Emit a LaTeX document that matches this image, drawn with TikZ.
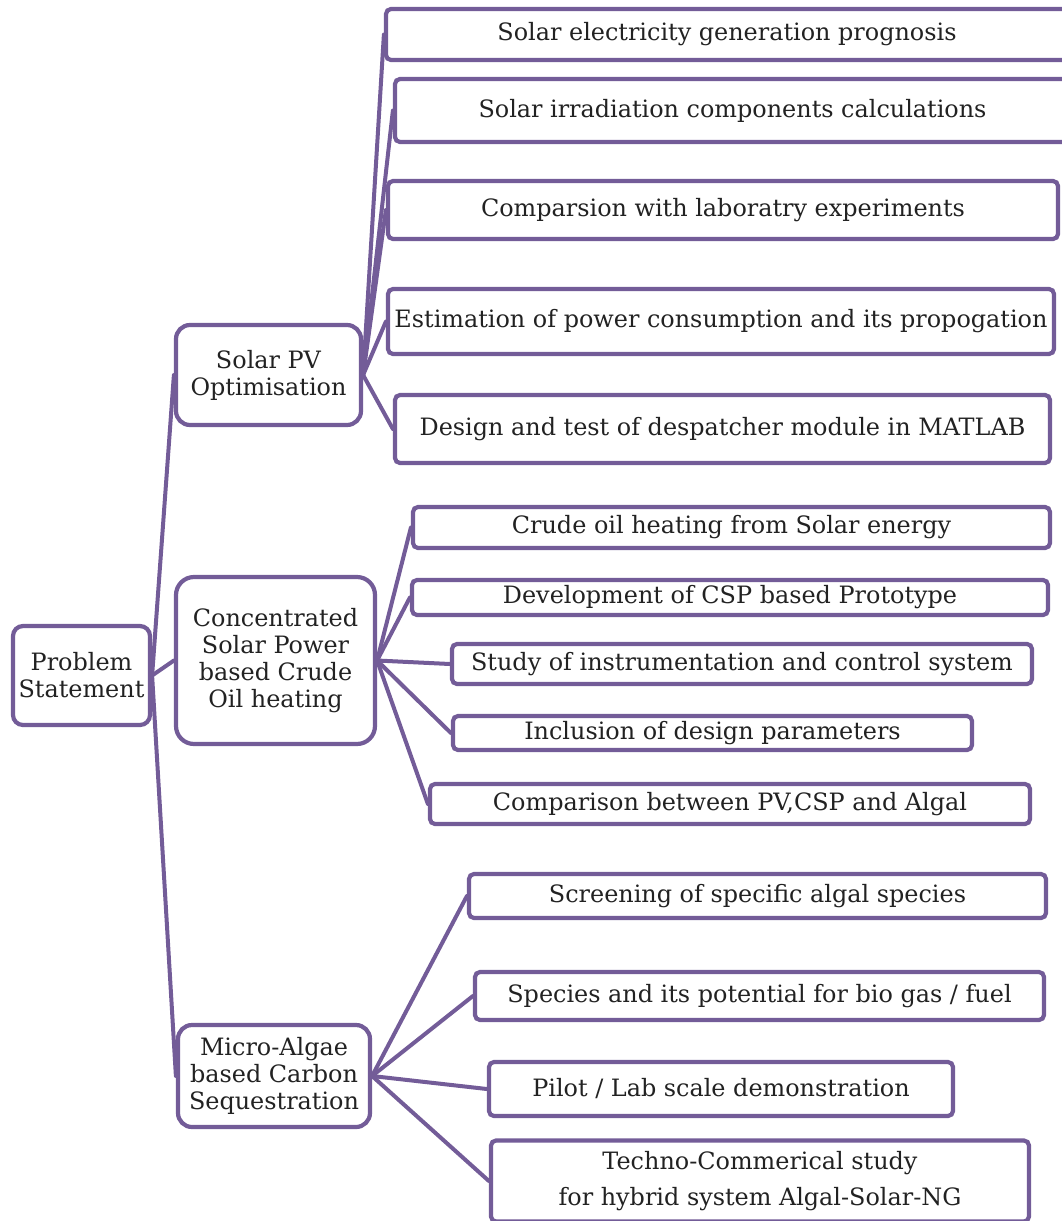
\documentclass[tikz,border=0pt]{standalone}
\usepackage{fontspec}
\setmainfont{DejaVu Serif}
\definecolor{pur}{RGB}{115,92,152}
\definecolor{txt}{RGB}{34,34,34}
\tikzset{
  box/.style={draw=pur, line width=4.2pt, fill=white, align=center, inner sep=0pt,
    font=\fontsize{23.9}{27}\selectfont, text=txt},
  leaf/.style={box, rounded corners=5pt},
  branch/.style={box, rounded corners=14pt},
  conn/.style={draw=pur, line width=4pt, line cap=round},
}
\begin{document}
\begin{tikzpicture}[x=1pt,y=-1pt]
\useasboundingbox (0,0) rectangle (1062,1221);
% root and branches
\node[box, rounded corners=10pt, minimum width=137pt, minimum height=99pt] (ps) at (81.5,675.5) {Problem\\Statement};
\node[branch, minimum width=185pt, minimum height=100pt] (pv) at (268.5,375) {Solar PV\\Optimisation};
\node[branch, rounded corners=18pt, minimum width=199pt, minimum height=167pt] (csp) at (275.5,660.5) {Concentrated\\Solar Power\\based Crude\\Oil heating};
\node[branch, minimum width=192pt, minimum height=102pt] (alg) at (274,1076) {Micro-Algae\\based Carbon\\Sequestration};
% PV leaves
\node[leaf, minimum width=682pt, minimum height=51pt] (p1) at (727,34.5) {Solar electricity generation prognosis};
\node[leaf, minimum width=675pt, minimum height=63pt] (p2) at (732.5,110.5) {Solar irradiation components calculations};
\node[leaf, minimum width=670pt, minimum height=58pt] (p3) at (723,210) {Comparsion with laboratry experiments};
\node[leaf, minimum width=666pt, minimum height=65pt] (p4) at (721,321.5) {Estimation of power consumption and its propogation};
\node[leaf, minimum width=655pt, minimum height=68pt] (p5) at (722.5,429) {Design and test of despatcher module in MATLAB};
% CSP leaves
\node[leaf, minimum width=637pt, minimum height=41pt] (c1) at (731.5,527.5) {Crude oil heating from Solar energy};
\node[leaf, minimum width=636pt, minimum height=35pt] (c2) at (730,597.5) {Development of CSP based Prototype};
\node[leaf, minimum width=580pt, minimum height=40pt] (c3) at (742,664) {Study of instrumentation and control system};
\node[leaf, minimum width=519pt, minimum height=34pt] (c4) at (712.5,733) {Inclusion of design parameters};
\node[leaf, minimum width=600pt, minimum height=40pt] (c5) at (730,804) {Comparison between PV,CSP and Algal};
% Algae leaves
\node[leaf, minimum width=577pt, minimum height=44pt] (a1) at (757.5,896) {Screening of specific algal species};
\node[leaf, minimum width=569pt, minimum height=48pt] (a2) at (759.5,996) {Species and its potential for bio gas / fuel};
\node[leaf, minimum width=464pt, minimum height=54pt] (a3) at (721,1089) {Pilot / Lab scale demonstration};
\node[leaf, minimum width=538pt, minimum height=81pt] (a4) at (760,1181) {Techno-Commerical study\\[9pt]for hybrid system Algal-Solar-NG};
% connectors
\foreach \c in {pv,csp,alg} \draw[conn] (ps.east) -- (\c.west);
\foreach \c in {p1,p2,p3,p4,p5} \draw[conn] (pv.east) -- (\c.west);
\foreach \c in {c1,c2,c3,c4,c5} \draw[conn] (csp.east) -- (\c.west);
\foreach \c in {a1,a2,a3,a4} \draw[conn] (alg.east) -- (\c.west);
\end{tikzpicture}
\end{document}
